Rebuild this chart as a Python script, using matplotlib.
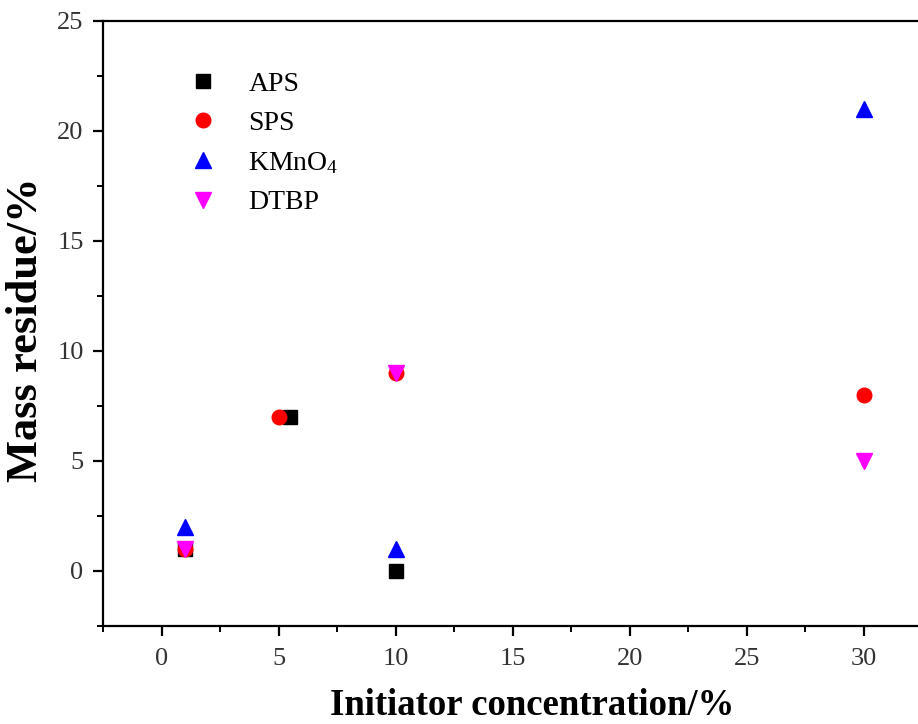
import matplotlib
matplotlib.use("Agg")
import matplotlib.pyplot as plt
from matplotlib.ticker import MultipleLocator

plt.rcParams["font.family"] = ["Liberation Serif", "DejaVu Serif"]
plt.rcParams["mathtext.fontset"] = "custom"
plt.rcParams["mathtext.rm"] = "Liberation Serif"
plt.rcParams["mathtext.it"] = "Liberation Serif:italic"

# data
aps_x = [1, 5.5, 10]
aps_y = [1, 7, 0]
sps_x = [1, 5, 10, 30]
sps_y = [1, 7, 9, 8]
kmno4_x = [1, 10, 30]
kmno4_y = [2, 1, 21]
dtbp_x = [1, 10, 30]
dtbp_y = [1, 9, 5]

fig = plt.figure(figsize=(9.18, 7.24), dpi=100)
# right spine falls just outside the picture, as in the reference
ax = fig.add_axes([0.1122, 0.1354, 0.8927, 0.8356])

ax.plot(aps_x, aps_y, "s", color="black", ms=9.5, label="APS")
ax.plot(sps_x, sps_y, "o", color="red", ms=10.5, label="SPS")
ax.plot(kmno4_x, kmno4_y, "^", color="blue", ms=11, label="KMnO$_4$")
ax.plot(dtbp_x, dtbp_y, "v", color="magenta", ms=11, label="DTBP")

ax.set_xlim(-2.5, 32.5)
ax.set_ylim(-2.5, 25)
ax.xaxis.set_major_locator(MultipleLocator(5))
ax.xaxis.set_minor_locator(MultipleLocator(2.5))
ax.yaxis.set_major_locator(MultipleLocator(5))
ax.yaxis.set_minor_locator(MultipleLocator(2.5))

for s in ax.spines.values():
    s.set_linewidth(1.6)
ax.tick_params(which="major", direction="out", length=7, width=1.6,
               labelsize=19, labelcolor="#333333", pad=7,
               top=False, right=False)
ax.tick_params(axis="x", which="major", pad=9)
ax.tick_params(which="minor", direction="out", length=4, width=1.4,
               top=False, right=False)

ax.set_xlabel("Initiator concentration/%", fontsize=26.5, fontweight="bold")
ax.xaxis.set_label_coords(0.524, -0.102)
ax.set_ylabel("Mass residue/%", fontsize=32, fontweight="bold")
ax.yaxis.set_label_coords(-0.07, 0.49)

ax.legend(loc="upper left", bbox_to_anchor=(0.091, 0.935), frameon=False,
          fontsize=20, labelspacing=0.5, handletextpad=1.15,
          handlelength=1.0, borderaxespad=0)

fig.savefig("out.png", dpi=100)
